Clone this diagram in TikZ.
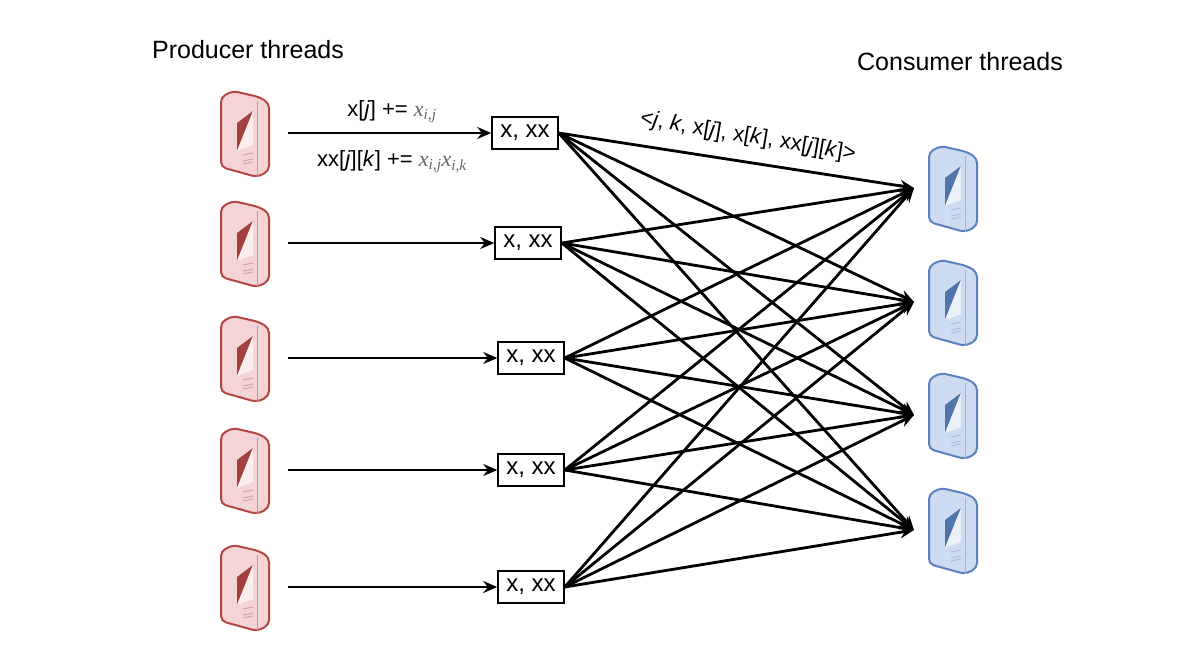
\documentclass[tikz,border=0pt]{standalone}
\usepackage{fontspec}
\setmainfont{Liberation Sans}
\newfontfamily\mathser{Liberation Serif}
\usetikzlibrary{arrows.meta}
\begin{document}
\begin{tikzpicture}[x=1pt,y=-1pt,
  box/.style={draw,line width=1.5pt,minimum width=66pt,minimum height=32pt,inner sep=0pt,font=\fontsize{24}{28}\selectfont},
  arr/.style={line width=2.8pt,-{Stealth[length=14pt,width=12pt]}},
  lbl/.style={font=\fontsize{22}{26}\selectfont}]
\useasboundingbox (0,0) rectangle (1200,654);
\newcommand{\srv}[4]{% x y stroke fill
  \begin{scope}[shift={(#1,#2)}]
  \draw[#3,line width=2pt,fill=#4,rounded corners=5pt] (-24,-36) -- (-12,-42) -- (14,-36) -- (24,-30) -- (24,38) -- (12,44) -- (-24,34) -- cycle;
  \draw[#3!60,line width=1pt] (12,-32) -- (12,44);
  \fill[#3!90!black] (8,-22) -- (-8,18) -- (-8,-10) -- cycle;
  \fill[#4!40!white] (8,-22) -- (8,12) -- (-8,18) -- cycle;
  \draw[#3!50,line width=1pt] (-2,22) -- (8,20) (-2,28) -- (8,26) (-2,31) -- (8,29);
  \end{scope}}
\newcommand{\gm}[1]{\textcolor{gray!80!black}{\mathser\itshape #1}}
\definecolor{rs}{RGB}{180,70,70}\definecolor{rf}{RGB}{244,212,212}
\definecolor{bs}{RGB}{90,130,190}\definecolor{bf}{RGB}{205,220,240}
\node[font=\fontsize{25}{30}\selectfont] (pt) at (248,50) {Producer threads};
\node[font=\fontsize{25}{30}\selectfont] (ct) at (960,62) {Consumer threads};
\foreach \i/\y/\bx in {1/133/525,2/243/528,3/358/531,4/470/531,5/587/531}{
  \srv{245}{\y}{rs}{rf}
  \coordinate (p\i) at (288,\y);
  \node[box] (b\i) at (\bx,\y) {x, xx};
  \draw[arr] (p\i) -- (b\i.west);
}
\foreach \j/\y in {1/188,2/302,3/415,4/530}{
  \srv{953}{\y}{bs}{bf}
  \coordinate (c\j) at (914,\y);
}
\foreach \i in {1,...,5}{\foreach \j in {1,...,4}{\draw[arr] (b\i.east) -- (c\j);}}
\node[lbl] (l1) at (392,112) {x[\textit{j}] += \gm{x\textsubscript{i,j}}};
\node[lbl] (l2) at (392,162) {xx[\textit{j}][\textit{k}] += \gm{x\textsubscript{i,j}x\textsubscript{i,k}}};
\node[lbl,rotate=-9.5] (l3) at (748,137) {<\textit{j}, \textit{k}, x[\textit{j}], x[\textit{k}], xx[\textit{j}][\textit{k}]>};
\end{tikzpicture}
\end{document}
